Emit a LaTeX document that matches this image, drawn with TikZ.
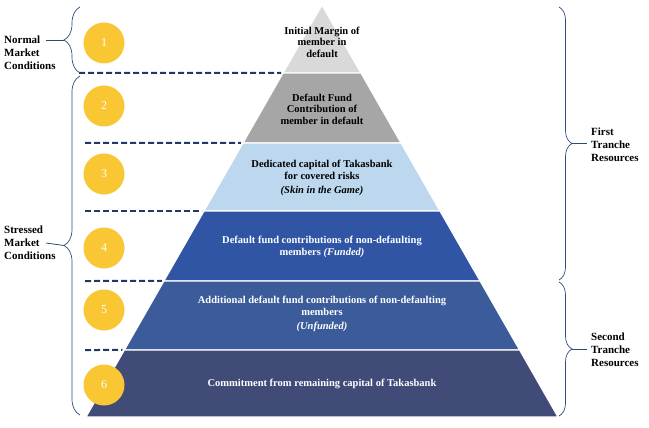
\documentclass[tikz,border=0pt]{standalone}
\usepackage{fontspec}
\setmainfont{Liberation Serif}
\usepackage{tikz}
\usetikzlibrary{positioning,calc,decorations.pathreplacing}
\definecolor{tierA}{HTML}{D9D9D9}
\definecolor{tierB}{HTML}{A6A6A6}
\definecolor{tierC}{HTML}{BDD7EE}
\definecolor{tierD}{HTML}{2F55A4}
\definecolor{tierE}{HTML}{3B5B9A}
\definecolor{tierF}{HTML}{404B78}
\definecolor{gold}{HTML}{F9C733}
\definecolor{navy}{HTML}{1F3864}
\definecolor{bracecol}{HTML}{2F4B7C}

\begin{document}
\begin{tikzpicture}[
    x=1pt, y=-1pt,
    band/.style={draw=white, line width=1.2pt},
    tiertext/.style={font=\fontsize{10.5}{11.5}\selectfont\bfseries, align=center},
    num/.style={circle, fill=gold, minimum size=41pt, inner sep=0pt, text=white, font=\fontsize{12}{12}\selectfont},
    tierline/.style={draw=navy, line width=2pt, dash pattern=on 6pt off 3pt},
    curly/.style={decorate, decoration={brace, amplitude=#1}, draw=bracecol, line width=0.7pt},
    tick/.style={draw=bracecol, line width=0.8pt},
    sidelabel/.style={font=\fontsize{11}{13}\selectfont\bfseries, align=left, anchor=west, inner sep=0pt}
]
    \useasboundingbox (0,0) rectangle (649,428);

    % Pyramid
    \coordinate (apex) at (322,5);
    \coordinate (bl) at (86,417);
    \coordinate (br) at (558,417);
    \foreach \t/\b/\c in {5/73/tierA, 73/143/tierB, 143/211/tierC, 211/281/tierD, 281/350/tierE, 350/417/tierF}
        \filldraw[band, fill=\c] ($(apex)!{(\t-5)/412}!(bl)$) -- ($(apex)!{(\b-5)/412}!(bl)$)
            -- ($(apex)!{(\b-5)/412}!(br)$) -- ($(apex)!{(\t-5)/412}!(br)$) -- cycle;

    % Dashed tier lines
    \foreach \y/\n/\s in {73/1/79, 143/2/85, 211/3/85, 281/4/85, 350/5/85} {
        \coordinate (start\n) at (\s,\y);
        \coordinate (edge\n) at ($(apex)!{(\y-5)/412}!(bl)+(-2,0)$);
        \draw[tierline] (start\n) -- (edge\n);
    }

    % Tier texts
    \node[tiertext] (t1) at (322,42) {Initial Margin of\\member in\\default};
    \node[tiertext] (t2) at (322,109) {Default Fund\\Contribution of\\member in default};
    \node[tiertext] (t3) at (322,178) {Dedicated capital of Takasbank\\for covered risks\\[3pt]\textit{(Skin in the Game)}};
    \node[tiertext, text=white] (t4) at (322,247) {Default fund contributions of non-defaulting\\members \textit{(Funded)}};
    \node[tiertext, text=white] (t5) at (322,314) {Additional default fund contributions of non-defaulting\\members\\[3pt]\textit{(Unfunded)}};
    \node[tiertext, text=white] (t6) at (322,384) {Commitment from remaining capital of Takasbank};

    % Numbered circles
    \foreach \y [count=\i] in {43,106,174,248,310,385}
        \node[num] (c\i) at (104,\y) {\i};

    % Left braces
    \draw[curly=16] (80,73) -- (80,7);
    \draw[curly=16] (80,415) -- (80,76);
    \coordinate (nmc-tip) at (64,40);
    \coordinate (nmc-end) at (46,40);
    \coordinate (smc-tip) at (64,245.5);
    \coordinate (smc-end) at (46,243);
    \node[sidelabel] (nmc) at (4,53) {Normal\\Market\\Conditions};
    \node[sidelabel] (smc) at (4,243) {Stressed\\Market\\Conditions};
    \draw[tick] (nmc-tip) -- (nmc-end);
    \draw[tick] (smc-tip) -- (smc-end);

    % Right braces
    \draw[curly=13] (559,7) -- (559,280);
    \draw[curly=13] (559,282) -- (559,416);
    \coordinate (ftr-tip) at (572,143.5);
    \coordinate (ftr-end) at (587,143.5);
    \coordinate (str-tip) at (572,349);
    \coordinate (str-end) at (587,349);
    \node[sidelabel] (ftr) at (591,145) {First\\Tranche\\Resources};
    \node[sidelabel] (str) at (591,350) {Second\\Tranche\\Resources};
    \draw[tick] (ftr-tip) -- (ftr-end);
    \draw[tick] (str-tip) -- (str-end);
\end{tikzpicture}
\end{document}
